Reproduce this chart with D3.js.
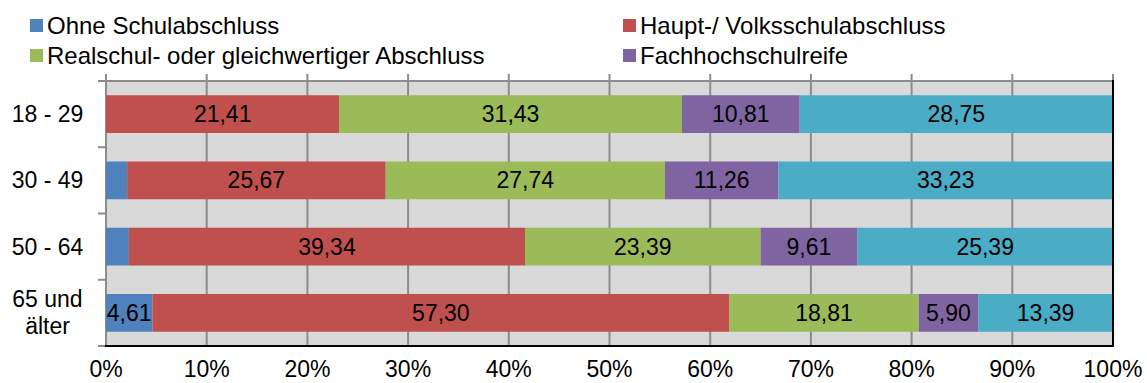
<!DOCTYPE html>
<html>
<head>
<meta charset="utf-8">
<script src="https://cdn.jsdelivr.net/npm/d3@7"></script>
<style>
  html, body { margin: 0; padding: 0; background: #fff; }
  svg { display: block; font-family: "Liberation Sans", Arial, sans-serif; }
</style>
</head>
<body>
<svg id="chart" width="1147" height="383"></svg>
<script>
// Age groups (rows, top to bottom)
const ageGroups = [["18 - 29"], ["30 - 49"], ["50 - 64"], ["65 und", "älter"]];
const ageKeys = ["18-29", "30-49", "50-64", "65+"];

// School-leaving qualification shares per age group
const seriesNames = ["Ohne Schulabschluss", "Haupt-/ Volksschulabschluss",
  "Realschul- oder gleichwertiger Abschluss", "Fachhochschulreife", "Abitur / Hochschulreife"];
const ohneSchulabschluss = [0, 2.10, 2.27, 4.61];
const hauptVolksschule   = [21.41, 25.67, 39.34, 57.30];
const realschule         = [31.43, 27.74, 23.39, 18.81];
const fachhochschulreife = [10.81, 11.26, 9.61, 5.90];
const hochschulreife     = [28.75, 33.23, 25.39, 13.39];

const seriesColors = ["#4f81bd", "#c0504d", "#9bbb59", "#8064a2", "#4bacc6"];
const xTicks = [0, 0.1, 0.2, 0.3, 0.4, 0.5, 0.6, 0.7, 0.8, 0.9, 1.0];
// Legend shows the first four series
const legendCount = 4;

const seriesValues = [ohneSchulabschluss, hauptVolksschule, realschule, fachhochschulreife, hochschulreife];
const rows = ageKeys.map((k, i) => {
  const r = { key: k };
  seriesNames.forEach((s, j) => { r[s] = seriesValues[j][i]; });
  return r;
});

const stack = d3.stack().keys(seriesNames).offset(d3.stackOffsetExpand);
const stacked = stack(rows);

const svg = d3.select("#chart");
const plot = { left: 106, right: 1113, top: 81, bottom: 346 };

const x = d3.scaleLinear().domain([0, 1]).range([plot.left, plot.right]);
const y = d3.scaleBand().domain(ageKeys).range([plot.top, plot.bottom])
  .paddingInner(0.43).paddingOuter(0.215);

// Plot background
svg.append("rect")
  .attr("x", plot.left).attr("y", plot.top)
  .attr("width", plot.right - plot.left).attr("height", plot.bottom - plot.top)
  .attr("fill", "#d9d9d9");

// Vertical gridlines, extending as short ticks above the plot
svg.append("g").selectAll("line").data(xTicks).join("line")
  .attr("x1", d => x(d)).attr("x2", d => x(d))
  .attr("y1", plot.top - 7).attr("y2", plot.bottom)
  .attr("stroke", "#8c8c8c").attr("stroke-width", 2);

// Top border
svg.append("line")
  .attr("x1", plot.left - 8).attr("x2", plot.right)
  .attr("y1", plot.top).attr("y2", plot.top)
  .attr("stroke", "#8c8c8c").attr("stroke-width", 2);

// Left category axis with ticks at band boundaries
svg.append("line")
  .attr("x1", plot.left).attr("x2", plot.left)
  .attr("y1", plot.top - 7).attr("y2", plot.bottom)
  .attr("stroke", "#8c8c8c").attr("stroke-width", 2);
const step = y.step();
const boundaries = d3.range(ageKeys.length + 1).map(i => plot.top + i * step);
svg.append("g").selectAll("line").data(boundaries).join("line")
  .attr("x1", plot.left - 8).attr("x2", plot.left)
  .attr("y1", d => d).attr("y2", d => d)
  .attr("stroke", "#8c8c8c").attr("stroke-width", 2);

// Bars
const layers = svg.append("g").selectAll("g").data(stacked).join("g")
  .attr("fill", (d, i) => seriesColors[i]);
layers.selectAll("rect").data(d => d).join("rect")
  .attr("x", d => x(d[0]))
  .attr("y", d => y(d.data.key))
  .attr("width", d => x(d[1]) - x(d[0]))
  .attr("height", y.bandwidth());

// Value labels
const labels = svg.append("g").attr("font-size", 23).attr("fill", "#000")
  .attr("text-anchor", "middle");
stacked.forEach(layer => {
  layer.forEach(d => {
    const v = d.data[layer.key];
    if (v < 4) return;
    labels.append("text")
      .attr("x", (x(d[0]) + x(d[1])) / 2)
      .attr("y", y(d.data.key) + y.bandwidth() / 2)
      .attr("dy", "0.35em")
      .text(d3.format(".2f")(v).replace(".", ","));
  });
});

// Right border and bottom axis line
svg.append("line")
  .attr("x1", plot.right).attr("x2", plot.right)
  .attr("y1", plot.top - 1).attr("y2", plot.bottom + 1)
  .attr("stroke", "#000").attr("stroke-width", 2);
svg.append("line")
  .attr("x1", plot.left - 1).attr("x2", plot.right + 1)
  .attr("y1", plot.bottom).attr("y2", plot.bottom)
  .attr("stroke", "#000").attr("stroke-width", 2);

// Category labels
const catG = svg.append("g").attr("font-size", 23).attr("fill", "#000")
  .attr("text-anchor", "middle");
ageGroups.forEach((lines, i) => {
  const cy = y(ageKeys[i]) + y.bandwidth() / 2;
  const lh = 27;
  const t = catG.append("text").attr("x", 47.5);
  lines.forEach((ln, j) => {
    t.append("tspan").attr("x", 47.5)
      .attr("y", cy + (j - (lines.length - 1) / 2) * lh)
      .attr("dy", "0.35em").text(ln);
  });
});

// Percent axis labels
svg.append("g").attr("font-size", 23).attr("fill", "#000").attr("text-anchor", "middle")
  .selectAll("text").data(xTicks).join("text")
  .attr("x", d => x(d)).attr("y", 377)
  .text(d => d3.format(".0%")(d));

// Legend
const legendPos = [[30, 19], [623, 19], [30, 49], [623, 49]];
const legend = svg.append("g").attr("font-size", 24).attr("fill", "#000");
seriesNames.slice(0, legendCount).forEach((name, i) => {
  const [lx, ly] = legendPos[i];
  legend.append("rect").attr("x", lx).attr("y", ly).attr("width", 13).attr("height", 13)
    .attr("fill", seriesColors[i]);
  legend.append("text").attr("x", lx + 17).attr("y", ly + 14.5).text(name);
});
</script>
</body>
</html>
